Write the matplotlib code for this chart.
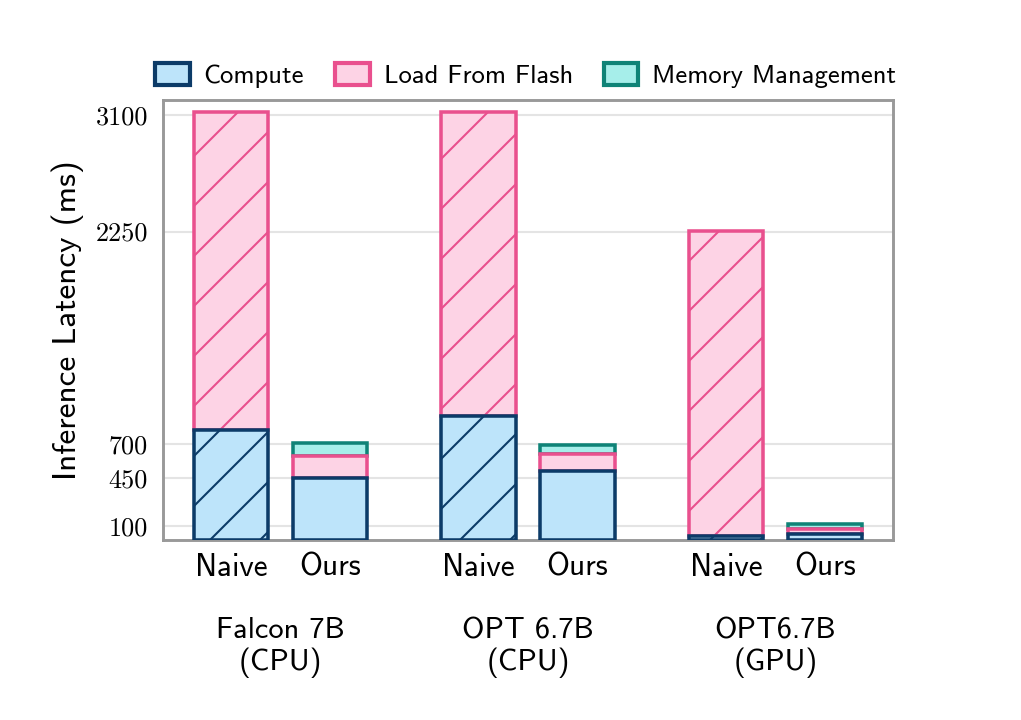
import matplotlib
matplotlib.use("Agg")
import matplotlib.pyplot as plt
import numpy as np
from matplotlib.patches import Patch

# values (ms)
models = ["Falcon 7B\n(CPU)", "OPT 6.7B\n(CPU)", "OPT6.7B\n(GPU)"]
methods = ["Naive", "Ours"]
compute = [805, 455, 905, 500, 30, 45]
load_flash = [2320, 160, 2220, 130, 2225, 35]
mem_mgmt = [0, 90, 0, 65, 0, 40]
yticks = [100, 450, 700, 2250, 3100]

c_fill, c_edge = "#bde4fa", "#0c3b68"
l_fill, l_edge = "#fdd3e5", "#e9508e"
m_fill, m_edge = "#a6eeea", "#0f8377"

plt.rcParams["font.family"] = ["cmss10", "DejaVu Sans"]
plt.rcParams["axes.formatter.use_mathtext"] = True
plt.rcParams["hatch.linewidth"] = 0.5

fig = plt.figure(figsize=(1021/300, 720/300), dpi=300)
ax = fig.add_axes([0.1597, 0.25, 0.7149, 0.6111])

off = 0.2
width = 0.3
xs = []
for g in range(len(models)):
    xs += [g - off, g + off]
xs = np.array(xs)
hatches = ["//", ""] * len(models)

compute = np.array(compute)
load_flash = np.array(load_flash)
mem_mgmt = np.array(mem_mgmt)

lw = 0.85
for i, x in enumerate(xs):
    ax.bar(x, compute[i], width, color=c_fill, edgecolor=c_edge, linewidth=lw,
           hatch=hatches[i], zorder=5)
    ax.bar(x, load_flash[i], width, bottom=compute[i], color=l_fill, edgecolor=l_edge,
           linewidth=lw, hatch=hatches[i], zorder=4)
    if mem_mgmt[i] > 0:
        ax.bar(x, mem_mgmt[i], width, bottom=compute[i] + load_flash[i], color=m_fill,
               edgecolor=m_edge, linewidth=lw, hatch=hatches[i], zorder=3)

ax.set_xlim(-0.475, 2.475)
ax.set_ylim(0, 3210)
ax.set_yticks(yticks)
ax.set_yticklabels([str(t) for t in yticks], fontfamily="cmr10", fontsize=6.3)
ax.set_xticks(xs)
ax.set_xticklabels(methods * len(models), fontsize=7.5)
ax.tick_params(axis="both", length=0)
ax.tick_params(axis="y", pad=3.6)
ax.tick_params(axis="x", pad=3.0)
ax.set_ylabel("Inference Latency (ms)", fontsize=8)
ax.yaxis.set_label_coords(-0.108, 0.5)

ax.grid(axis="y", color="#e4e4e4", linewidth=0.5)
ax.set_axisbelow(True)
for s in ax.spines.values():
    s.set_color("#999999")
    s.set_linewidth(0.7)

for g, name in enumerate(models):
    ax.text(g, -0.245, name, transform=ax.get_xaxis_transform(), ha="center", va="center",
            fontsize=7.3, linespacing=1.15)

handles = [Patch(facecolor=c_fill, edgecolor=c_edge, linewidth=1.0, label="Compute"),
           Patch(facecolor=l_fill, edgecolor=l_edge, linewidth=1.0, label="Load From Flash"),
           Patch(facecolor=m_fill, edgecolor=m_edge, linewidth=1.0, label="Memory Management")]
ax.legend(handles=handles, loc="center", bbox_to_anchor=(0.497, 1.055), ncol=3, frameon=False,
          fontsize=6.4, handlelength=1.3, handleheight=0.86, handletextpad=0.52,
          columnspacing=1.16, borderpad=0, borderaxespad=0)

fig.savefig("out.png", dpi=300)
